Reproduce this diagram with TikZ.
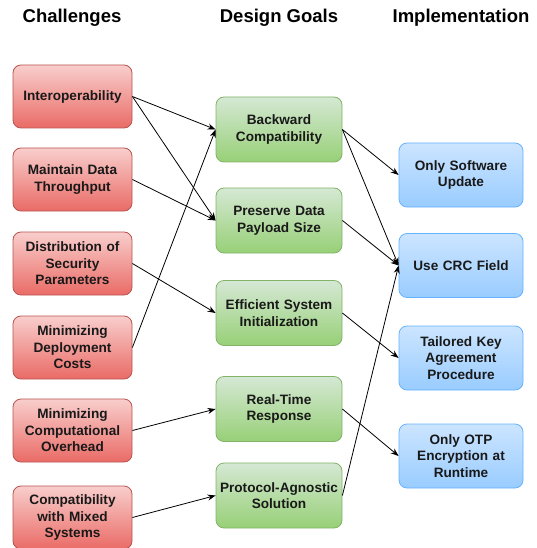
\documentclass[tikz,border=0pt]{standalone}
\usepackage{fontspec}
\setmainfont{Liberation Sans}
\usetikzlibrary{arrows.meta}
\definecolor{rtop}{HTML}{F8CECC}\definecolor{rbot}{HTML}{EA6B66}\definecolor{rline}{HTML}{B85450}
\definecolor{gtop}{HTML}{D5E8D4}\definecolor{gbot}{HTML}{97D077}\definecolor{gline}{HTML}{82B366}
\definecolor{btop}{HTML}{CCE5FF}\definecolor{bbot}{HTML}{99CCFF}\definecolor{bline}{HTML}{66B2FF}
\tikzset{
  box/.style={rounded corners=8pt, line width=0.8pt, align=center, inner sep=1pt,
    font=\fontsize{13.6}{16.5}\selectfont\bfseries, text=black!90},
  redbox/.style={box, draw=rline, top color=rtop, bottom color=rbot, minimum width=119pt, minimum height=63pt, text width=117pt},
  greenbox/.style={box, draw=gline, top color=gtop, bottom color=gbot, minimum width=124pt, minimum height=65pt, text width=124pt},
  bluebox/.style={box, draw=bline, top color=btop, bottom color=bbot, minimum width=124pt, minimum height=64pt, text width=122pt},
  hdr/.style={font=\fontsize{18.5}{22}\selectfont\bfseries},
  arr/.style={-{Stealth[length=8pt,width=6pt]}, line width=0.8pt, black},
}
\begin{document}
\begin{tikzpicture}[x=1pt,y=-1pt]
\useasboundingbox (0,0) rectangle (537,548);
\clip (0,0) rectangle (537,548);
\node[hdr] (h1) at (72,18) {Challenges};
\node[hdr] (h2) at (279,18) {Design Goals};
\node[hdr] (h3) at (461,18) {Implementation};
% challenges
\node[redbox] (c1) at (72.5,96.5) {Interoperability};
\node[redbox] (c2) at (72.5,179.5) {Maintain Data\\Throughput};
\node[redbox] (c3) at (72.5,263.5) {Distribution of\\Security\\Parameters};
\node[redbox] (c4) at (72.5,347.5) {Minimizing\\Deployment\\Costs};
\node[redbox] (c5) at (72.5,430.5) {Minimizing\\Computational\\Overhead};
\node[redbox] (c6) at (72.5,517.5) {Compatibility\\with Mixed\\Systems};
% goals
\node[greenbox] (g1) at (279,129.5) {Backward\\Compatibility};
\node[greenbox] (g2) at (279,220.5) {Preserve Data\\Payload Size};
\node[greenbox] (g3) at (279,313) {Efficient System\\Initialization};
\node[greenbox] (g4) at (279,409) {Real-Time\\Response};
\node[greenbox] (g5) at (279,495.5) {Protocol-Agnostic\\Solution};
% implementation
\node[bluebox] (i1) at (461,175) {Only Software\\Update};
\node[bluebox] (i2) at (461,265.5) {Use CRC Field};
\node[bluebox] (i3) at (461,358) {Tailored Key\\Agreement\\Procedure};
\node[bluebox] (i4) at (461,456) {Only OTP\\Encryption at\\Runtime};
% arrows
\draw[arr] (c1.east) -- (g1.west);
\draw[arr] (c1.east) -- (g2.west);
\draw[arr] (c2.east) -- (g2.west);
\draw[arr] (c3.east) -- (g3.west);
\draw[arr] (c4.east) -- (g1.west);
\draw[arr] (c5.east) -- (g4.west);
\draw[arr] (c6.east) -- (g5.west);
\draw[arr] (g1.east) -- (i1.west);
\draw[arr] (g1.east) -- (i2.west);
\draw[arr] (g2.east) -- (i2.west);
\draw[arr] (g3.east) -- (i3.west);
\draw[arr] (g4.east) -- (i4.west);
\draw[arr] (g5.east) -- (i2.west);
\end{tikzpicture}
\end{document}
